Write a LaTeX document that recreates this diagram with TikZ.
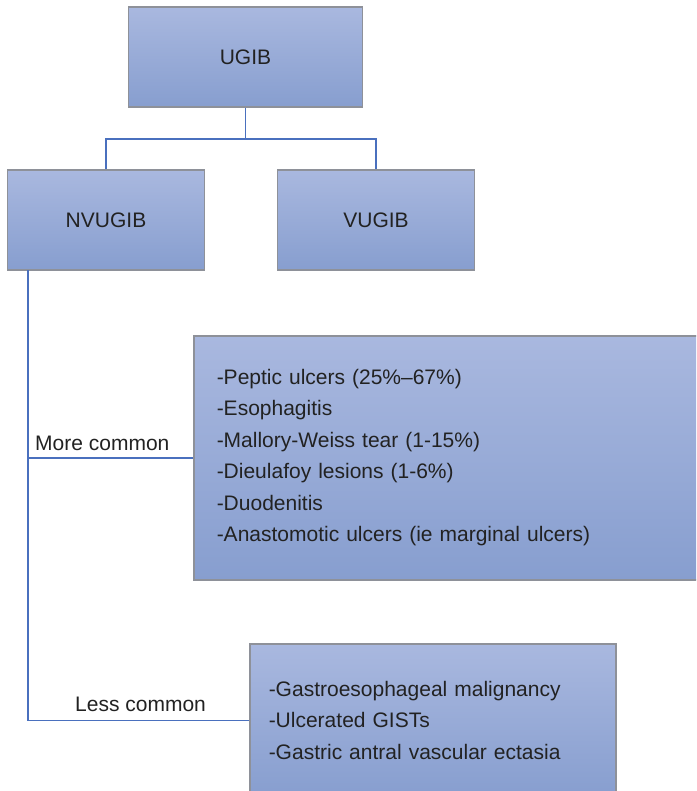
\documentclass[tikz,border=0pt]{standalone}
\usepackage{fontspec}
\setmainfont{Liberation Sans}
\definecolor{boxtop}{HTML}{A9B8DF}
\definecolor{boxbot}{HTML}{879ECF}
\definecolor{boxgray}{HTML}{8E9199}
\definecolor{linkblue}{HTML}{4A70BE}
\definecolor{textdark}{HTML}{222222}
\begin{document}
\begin{tikzpicture}[x=1pt,y=-1pt,
  box/.style={draw=boxgray, line width=1.5pt, top color=boxtop, bottom color=boxbot,
    inner sep=0pt, text=textdark, font=\fontsize{21}{31.5}\selectfont},
  listbox/.style={box, align=left, inner xsep=#1},
  conn/.style={draw=linkblue, line width=1.5pt},
  lbl/.style={text=textdark, font=\fontsize{21}{25}\selectfont, inner sep=0pt}]
\clip (0,0) rectangle (696,791);
\node[box, minimum width=234pt, minimum height=100pt] (ugib) at (245.5,57) {UGIB};
\node[box, minimum width=197pt, minimum height=100pt] (nv) at (106,220) {NVUGIB};
\node[box, minimum width=197pt, minimum height=100pt] (v) at (376,220) {VUGIB};
\node[listbox=23pt, text width=540pt, minimum height=244pt, anchor=north west] (big) at (193,335)
  {-Peptic ulcers (25\%--67\%)\\
   -Esophagitis\\
   -Mallory-Weiss tear (1-15\%)\\
   -Dieulafoy lesions (1-6\%)\\
   -Duodenitis\\
   -Anastomotic ulcers (ie marginal ulcers)};
\node[listbox=19pt, text width=328pt, minimum height=153pt, anchor=north west] (small) at (249,643)
  {-Gastroesophageal malignancy\\
   -Ulcerated GISTs\\
   -Gastric antral vascular ectasia};
\coordinate (bus) at (0,139);
\coordinate (stem) at (28,270);
\draw[conn] (ugib.south) -- (ugib.south |- bus);
\draw[conn] (nv.north) |- (ugib.south |- bus) -| (v.north);
\draw[conn] (stem) |- (small.west);
\draw[conn] (stem |- big.west) -- (big.west);
\node[lbl, anchor=base west] (more) at (35,450) {More common};
\node[lbl, anchor=base west] (less) at (75,711) {Less common};
\end{tikzpicture}
\end{document}
